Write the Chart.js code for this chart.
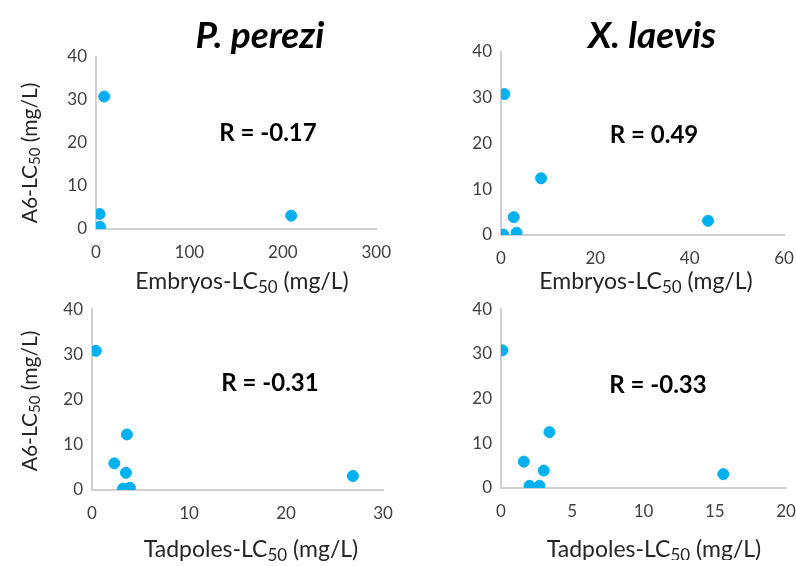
<!DOCTYPE html>
<html>
<head>
<meta charset="utf-8">
<script src="https://cdn.jsdelivr.net/npm/chart.js@4.4.1/dist/chart.umd.min.js"></script>
<style>
  body { margin: 0; background: #fff; }
  #wrap { position: relative; width: 796px; height: 566px; overflow: hidden; }
  canvas { position: absolute; }
</style>
</head>
<body>
<div id="wrap">
  <canvas id="c1"></canvas>
  <canvas id="c2"></canvas>
  <canvas id="c3"></canvas>
  <canvas id="c4"></canvas>
</div>
<script>
// A6 LC50 (y) against embryo / tadpole LC50 (x)
const pEmbryoX = [8.8, 3.9, 209, 1.4, 4.2];
const pEmbryoY = [30.8, 3.5, 3.1, 0.3, 0.5];
const xEmbryoX = [0.7, 8.5, 2.7, 3.3, 0.5, 43.9];
const xEmbryoY = [30.8, 12.4, 3.9, 0.5, 0.1, 3.1];
const pTadX = [0.4, 3.6, 2.3, 3.5, 3.2, 3.9, 26.9];
const pTadY = [30.8, 12.3, 5.9, 3.8, 0.3, 0.5, 3.1];
const xTadX = [0.1, 3.4, 1.6, 3.0, 2.0, 2.7, 15.6];
const xTadY = [30.8, 12.5, 5.9, 3.9, 0.5, 0.5, 3.1];

const yTicks = [0, 10, 20, 30, 40];
const rValues = ['R = -0.17', 'R = 0.49', 'R = -0.31', 'R = -0.33'];
const species = ['P. perezi', 'X. laevis'];

const FONT = 'Lato, Carlito, "Open Sans", sans-serif';
const BLUE = '#00b0f0';
const AXIS = '#d0d0d0';

// draw "pre" + subscript + "post" centred at x,y (optionally rotated)
function subText(ctx, pre, sub, post, x, y, size, rot) {
  ctx.save();
  ctx.translate(x, y);
  if (rot) ctx.rotate(-Math.PI / 2);
  const big = size + 'px ' + FONT, small = Math.round(size * 0.72) + 'px ' + FONT;
  ctx.font = big;
  const w1 = ctx.measureText(pre).width, w3 = ctx.measureText(post).width;
  ctx.font = small;
  const w2 = ctx.measureText(sub).width;
  let cx = -(w1 + w2 + w3) / 2;
  ctx.fillStyle = '#262626';
  ctx.textBaseline = 'alphabetic';
  ctx.textAlign = 'left';
  const base = size * 0.36;
  ctx.font = big; ctx.fillText(pre, cx, base); cx += w1;
  ctx.font = small; ctx.fillText(sub, cx, base + size * 0.18); cx += w2;
  ctx.font = big; ctx.fillText(post, cx, base);
  ctx.restore();
}

const panelText = {
  id: 'panelText',
  afterDraw(chart, args, o) {
    const ctx = chart.ctx;
    if (o.title) {
      ctx.save();
      ctx.font = 'italic bold 37px ' + FONT;
      ctx.fillStyle = '#000';
      ctx.textAlign = 'center';
      ctx.textBaseline = 'middle';
      ctx.fillText(o.title, o.titleX, o.titleY);
      ctx.restore();
    }
    ctx.save();
    ctx.font = 'bold 24px ' + FONT;
    ctx.fillStyle = '#000';
    ctx.textAlign = 'center';
    ctx.textBaseline = 'middle';
    ctx.fillText(o.r, o.rX, o.rY);
    ctx.restore();
    subText(ctx, o.xPre, '50', ' (mg/L)', o.xtX, o.xtY, 23, false);
    if (o.yTitle) subText(ctx, 'A6-LC', '50', ' (mg/L)', o.ytX, o.ytY, 21, true);
  }
};

// plot area target (page px): left, top, right, bottom
function makePanel(id, box, xs, ys, xMax, xStep, txt) {
  const padTop = txt.title ? box[1] : 10;
  const yW = box[0] - txt.left;
  const xH = 72;
  const cv = document.getElementById(id);
  const w = box[2] - txt.left + 22;
  const h = box[3] - box[1] + padTop + xH;
  cv.style.left = txt.left + 'px';
  cv.style.top = (box[1] - padTop) + 'px';
  cv.style.width = w + 'px';
  cv.style.height = h + 'px';
  cv.width = w; cv.height = h;
  // convert page coords of texts to canvas coords
  const ox = txt.left, oy = box[1] - padTop;
  const o = Object.assign({}, txt, {
    titleX: txt.titleX - ox, titleY: txt.titleY - oy,
    rX: txt.rX - ox, rY: txt.rY - oy,
    xtX: txt.xtX - ox, xtY: txt.xtY - oy,
    ytX: txt.ytX - ox, ytY: txt.ytY - oy
  });
  return new Chart(cv, {
    type: 'scatter',
    data: {
      datasets: [{
        data: xs.map((x, i) => ({ x: x, y: ys[i] })),
        backgroundColor: BLUE,
        borderColor: BLUE,
        pointRadius: 5.5,
        pointHoverRadius: 5.5
      }]
    },
    plugins: [panelText],
    options: {
      responsive: false,
      animation: false,
      layout: { padding: { top: padTop, right: 22, left: 0, bottom: 0 } },
      plugins: { legend: { display: false }, tooltip: { enabled: false }, panelText: o },
      scales: {
        x: {
          type: 'linear', min: 0, max: xMax,
          afterFit: s => { s.height = xH; },
          grid: { display: false, drawTicks: true, tickLength: 5, color: AXIS },
          border: { color: AXIS, width: 2 },
          ticks: { stepSize: xStep, color: '#404040', font: { family: FONT, size: 17 }, padding: 8, maxRotation: 0 }
        },
        y: {
          type: 'linear', min: 0, max: 40,
          afterBuildTicks: s => { s.ticks = yTicks.map(v => ({ value: v })); },
          afterFit: s => { s.width = yW; },
          grid: { display: false, drawTicks: true, tickLength: 5, color: AXIS },
          border: { color: AXIS, width: 2 },
          ticks: { color: '#404040', font: { family: FONT, size: 17 }, padding: 4 }
        }
      }
    }
  });
}

makePanel('c1', [96, 57, 377, 229], pEmbryoX, pEmbryoY, 300, 100, {
  left: 0, title: species[0], titleX: 260, titleY: 36, r: rValues[0], rX: 268, rY: 133,
  xPre: 'Embryos-LC', xtX: 242, xtY: 281, yTitle: true, ytX: 29, ytY: 153
});
makePanel('c2', [501, 52, 784, 235], xEmbryoX, xEmbryoY, 60, 20, {
  left: 440, title: species[1], titleX: 652, titleY: 36, r: rValues[1], rX: 654, rY: 135,
  xPre: 'Embryos-LC', xtX: 646, xtY: 281, yTitle: false, ytX: 0, ytY: 0
});
makePanel('c3', [92, 305, 383, 490], pTadX, pTadY, 30, 10, {
  left: 0, title: null, titleX: 0, titleY: 0, r: rValues[2], rX: 270, rY: 383,
  xPre: 'Tadpoles-LC', xtX: 251, xtY: 549, yTitle: true, ytX: 29, ytY: 401
});
makePanel('c4', [501, 305, 786, 488], xTadX, xTadY, 20, 5, {
  left: 440, title: null, titleX: 0, titleY: 0, r: rValues[3], rX: 658, rY: 385,
  xPre: 'Tadpoles-LC', xtX: 654, xtY: 549, yTitle: false, ytX: 0, ytY: 0
});
</script>
</body>
</html>
